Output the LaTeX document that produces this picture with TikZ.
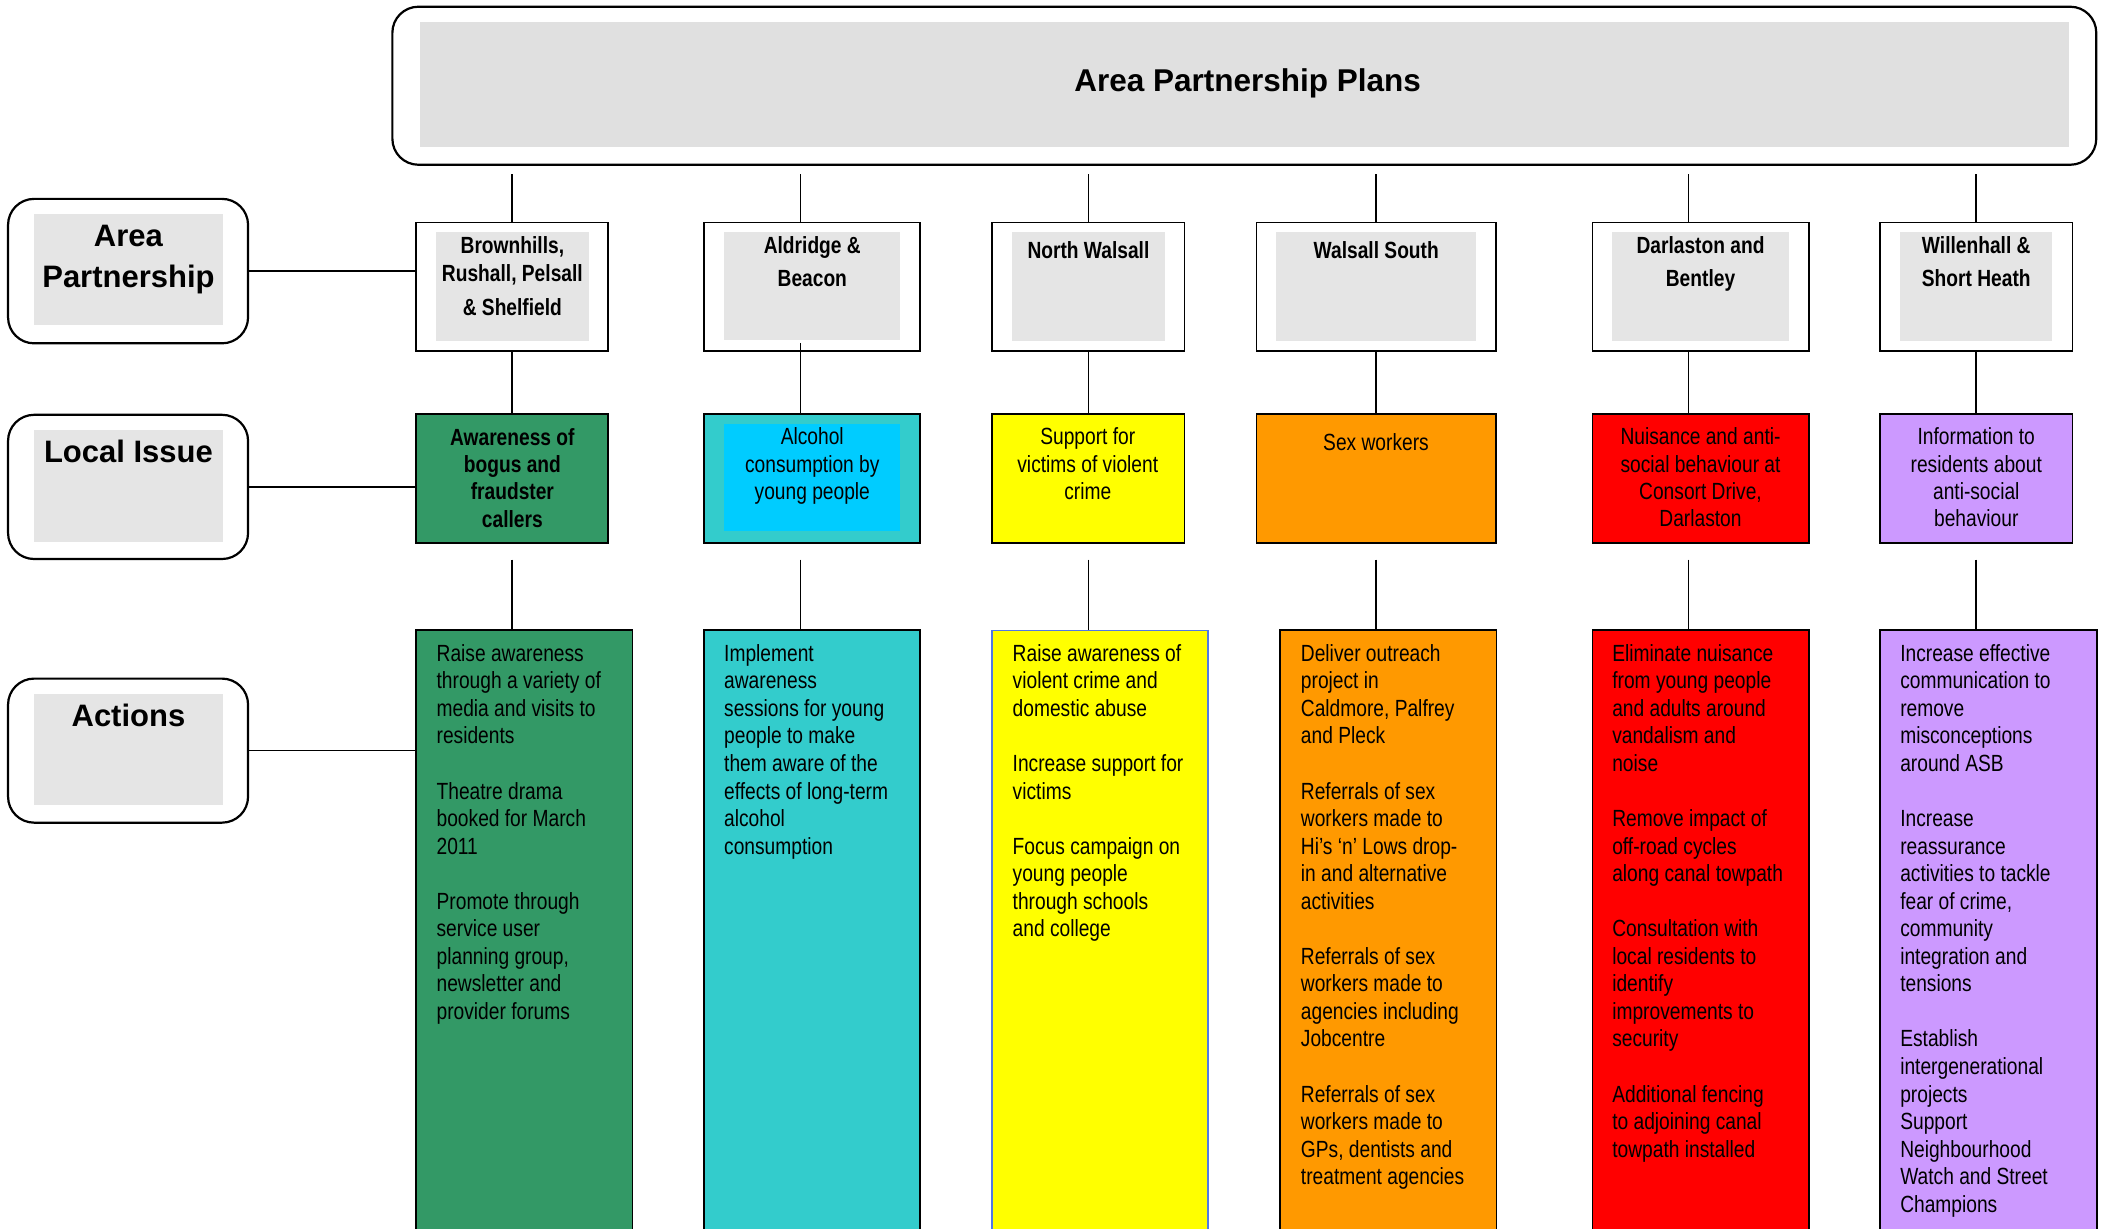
\documentclass[tikz,border=0pt]{standalone}
\usepackage{fontspec}
\setmainfont{Liberation Sans}
\newfontfamily\narrow[FakeStretch=0.82]{Liberation Sans}
\usetikzlibrary{fit}
\definecolor{cgreen}{RGB}{51,153,102}
\definecolor{cteal}{RGB}{51,204,204}
\definecolor{cblue}{RGB}{0,204,255}
\definecolor{cyell}{RGB}{255,255,0}
\definecolor{corange}{RGB}{255,153,0}
\definecolor{cred}{RGB}{255,0,0}
\definecolor{cpurple}{RGB}{204,153,255}
\definecolor{gtop}{RGB}{224,224,224}
\definecolor{gbox}{RGB}{229,229,229}
\definecolor{bline}{RGB}{80,120,230}
\tikzset{
  rbox/.style={draw=black, fill=white, line width=2.2pt, rounded corners=26pt, inner sep=0pt},
  sbox/.style={draw=black, line width=1.7pt, inner sep=0pt},
  gfill/.style={fill=#1, draw=none, inner sep=0pt},
  gfill/.default=gbox,
  conn/.style={draw=black, line width=1.7pt},
  hdr/.style={anchor=base, inner sep=0pt, font=\bfseries\fontsize{31.5}{38}\selectfont},
  labtxt/.style={anchor=base, inner sep=0pt, font=\bfseries\fontsize{31}{40.3}\selectfont},
  areatxt/.style={anchor=base, inner sep=0pt, font=\narrow\bfseries\fontsize{23.4}{33.5}\selectfont},
  loctxt/.style={anchor=base, inner sep=0pt, font=\narrow\fontsize{23.4}{27.3}\selectfont},
  acttxt/.style={anchor=base west, inner sep=0pt, font=\narrow\fontsize{23.4}{27.55}\selectfont},
}
\newcommand\cbox[2]{\parbox[t]{#1}{\centering #2}}
\newcommand\lbox[1]{\parbox[t]{190pt}{\raggedright #1}}
\newcommand\blank{\\[27.55pt]}
\begin{document}
\begin{tikzpicture}[x=1.34375pt,y=-1.34375pt]
\useasboundingbox (0,0) rectangle (1568,914);
\clip (0,0) rectangle (1568,914);

% header
\node[rbox, fit={(292,5) (1560,122.6)}] (top) {};
\node[gfill=gtop, fit={(312.6,16.5) (1540,109.4)}] (topg) {};
\node[hdr] (toptxt) at (928.5,68.2) {Area Partnership Plans};

% left labels
\node[rbox, fit={(6,148) (184.6,255.5)}] (lab1) {};
\node[gfill, fit={(25.3,159) (166,242)}] (lab1g) {};
\node[labtxt] (lab1t) at (95.6,183.6) {\cbox{200pt}{Area\\Partnership}};

\node[rbox, fit={(6,308.7) (184.6,416)}] (lab2) {};
\node[gfill, fit={(25.3,320) (166,403)}] (lab2g) {};
\node[labtxt] (lab2t) at (95.6,344.5) {Local Issue};

\node[rbox, fit={(6,505) (184.6,612.2)}] (lab3) {};
\node[gfill, fit={(25.3,516.5) (166,599)}] (lab3g) {};
\node[labtxt] (lab3t) at (95.6,540.8) {Actions};

% area partnership boxes
\node[sbox, fill=white, fit={(309.8,165.5) (452.7,261)}] (a1) {};
\node[gfill, fit={(324.8,172.8) (438,253.6)}] (a1g) {};
\node[areatxt] (a1t) at (381.3,188.8) {\cbox{170pt}{Brownhills,\\[-5.7pt]Rushall, Pelsall\\\& Shelfield}};

\node[sbox, fill=white, fit={(524,165.5) (684.8,261)}] (a2) {};
\node[gfill, fit={(539,172.8) (670,253)}] (a2g) {};
\node[areatxt] (a2t) at (604.5,188.4) {\cbox{170pt}{Aldridge \&\\Beacon}};

\node[sbox, fill=white, fit={(738.3,165.5) (881.5,261)}] (a3) {};
\node[gfill, fit={(753,172.8) (867,253.8)}] (a3g) {};
\node[areatxt] (a3t) at (810,192.7) {North Walsall};

\node[sbox, fill=white, fit={(935,165.5) (1113.4,261)}] (a4) {};
\node[gfill, fit={(949.7,172.8) (1098.7,253.8)}] (a4g) {};
\node[areatxt] (a4t) at (1024.2,192.7) {Walsall South};

\node[sbox, fill=white, fit={(1185,165.5) (1346,261)}] (a5) {};
\node[gfill, fit={(1199.6,172.8) (1331.4,253.8)}] (a5g) {};
\node[areatxt] (a5t) at (1265.5,188.4) {\cbox{170pt}{Darlaston and\\Bentley}};

\node[sbox, fill=white, fit={(1399,165.5) (1542.3,261)}] (a6) {};
\node[gfill, fit={(1414,172.8) (1527.4,253.8)}] (a6g) {};
\node[areatxt] (a6t) at (1470.7,188.4) {\cbox{170pt}{Willenhall \&\\Short Heath}};

% local issue boxes
\node[sbox, fill=cgreen, fit={(309.8,308.3) (452.7,404)}] (l1) {};
\node[loctxt, font=\narrow\bfseries\fontsize{23.4}{27.3}\selectfont] (l1t) at (381.3,331.4) {\cbox{178pt}{Awareness of\\bogus and\\fraudster\\callers}};

\node[sbox, fill=cteal, fit={(524,308.3) (684.8,404)}] (l2) {};
\node[gfill=cblue, fit={(539,315.6) (670,395.5)}] (l2g) {};
\node[loctxt] (l2t) at (604.5,331) {\cbox{200pt}{Alcohol\\consumption by\\young people}};

\node[sbox, fill=cyell, fit={(738.3,308.3) (881.5,404)}] (l3) {};
\node[loctxt] (l3t) at (809.5,331) {\cbox{178pt}{Support for\\victims of violent\\crime}};

\node[sbox, fill=corange, fit={(935,308.3) (1113.4,404)}] (l4) {};
\node[loctxt] (l4t) at (1024,335.4) {Sex workers};

\node[sbox, fill=cred, fit={(1185,308.3) (1346,404)}] (l5) {};
\node[loctxt] (l5t) at (1265.5,331) {\cbox{200pt}{Nuisance and anti-\\social behaviour at\\Consort Drive,\\Darlaston}};

\node[sbox, fill=cpurple, fit={(1399,308.3) (1542.3,404)}] (l6) {};
\node[loctxt] (l6t) at (1470.7,331) {\cbox{178pt}{Information to\\residents about\\anti-social\\behaviour}};

% action boxes
\node[sbox, fill=cgreen, fit={(309.6,469) (470.6,930)}] (c1) {};
\node[acttxt] (c1t) at (324.8,492.1) {\lbox{Raise awareness\\through a variety of\\media and visits to\\residents\blank
Theatre drama\\booked for March\\2011\blank
Promote through\\service user\\planning group,\\newsletter and\\provider forums}};

\node[sbox, fill=cteal, fit={(524,469) (684.8,930)}] (c2) {};
\node[acttxt] (c2t) at (538.8,492.1) {\lbox{Implement\\awareness\\sessions for young\\people to make\\them aware of the\\effects of long-term\\alcohol\\consumption}};

\node[sbox, fill=cyell, draw=bline, line width=1.3pt, fit={(738.3,469) (899,930)}] (c3) {};
\node[acttxt] (c3t) at (753.5,492.1) {\lbox{Raise awareness of\\violent crime and\\domestic abuse\blank
Increase support for\\victims\blank
Focus campaign on\\young people\\through schools\\and college}};

\node[sbox, fill=corange, fit={(952.8,469) (1113.6,930)}] (c4) {};
\node[acttxt] (c4t) at (968,492.1) {\lbox{Deliver outreach\\project in\\Caldmore, Palfrey\\and Pleck\blank
Referrals of sex\\workers made to\\Hi’s ‘n’ Lows drop-\\in and alternative\\activities\blank
Referrals of sex\\workers made to\\agencies including\\Jobcentre\blank
Referrals of sex\\workers made to\\GPs, dentists and\\treatment agencies}};

\node[sbox, fill=cred, fit={(1185,469) (1346,930)}] (c5) {};
\node[acttxt] (c5t) at (1199.7,492.1) {\lbox{Eliminate nuisance\\from young people\\and adults around\\vandalism and\\noise\blank
Remove impact of\\off-road cycles\\along canal towpath\blank
Consultation with\\local residents to\\identify\\improvements to\\security\blank
Additional fencing\\to adjoining canal\\towpath installed}};

\node[sbox, fill=cpurple, fit={(1399,469) (1560.5,930)}] (c6) {};
\node[acttxt] (c6t) at (1414,492.1) {\lbox{Increase effective\\communication to\\remove\\misconceptions\\around ASB\blank
Increase\\reassurance\\activities to tackle\\fear of crime,\\community\\integration and\\tensions\blank
Establish\\intergenerational\\projects\\Support\\Neighbourhood\\Watch and Street\\Champions}};

% connector columns
\coordinate (v1) at (381,0);
\coordinate (v2) at (595.7,0);
\coordinate (v3) at (810,0);
\coordinate (v4) at (1024,0);
\coordinate (v5) at (1256.6,0);
\coordinate (v6) at (1470.5,0);

\foreach \i in {1,...,6}{
  \draw[conn, shorten <=8.5pt] (top.south -| v\i) -- (a\i.north -| v\i);
  \draw[conn, shorten <=16pt] (l\i.south -| v\i) -- (c\i.north -| v\i);
}
\foreach \i in {1,3,4,5,6}{
  \draw[conn] (a\i.south -| v\i) -- (l\i.north -| v\i);
}
\draw[conn, shorten <=-8.6pt] (a2.south -| v2) -- (l2.north -| v2);

% label connectors
\draw[conn] (lab1.east) -- (lab1.east -| a1.west);
\draw[conn] (lab2.east) -- (lab2.east -| l1.west);
\draw[conn] (lab3.east) -- (lab3.east -| c1.west);
\end{tikzpicture}
\end{document}
